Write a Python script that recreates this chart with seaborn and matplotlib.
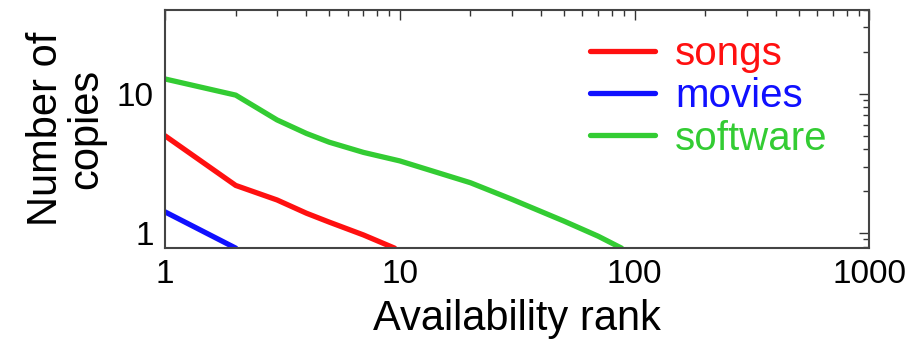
import matplotlib
matplotlib.use("Agg")
import matplotlib.pyplot as plt
import seaborn as sns
import pandas as pd
from matplotlib.ticker import LogLocator, FixedLocator, NullFormatter

songs_x = [1, 2, 3, 4, 5, 7, 9.5]
songs_y = [5.0, 2.2, 1.73, 1.39, 1.2, 0.97, 0.78]
movies_x = [1, 2]
movies_y = [1.42, 0.78]
software_x = [1, 2, 3, 4, 5, 7, 10, 20, 30, 50, 70, 88]
software_y = [12.8, 9.8, 6.5, 5.2, 4.5, 3.8, 3.3, 2.3, 1.75, 1.22, 0.95, 0.78]

series = ["songs", "movies", "software"]
colors = {"songs": "#ff1010", "movies": "#1010ff", "software": "#33cc33"}

df = pd.concat([
    pd.DataFrame({"rank": songs_x, "copies": songs_y, "type": "songs"}),
    pd.DataFrame({"rank": movies_x, "copies": movies_y, "type": "movies"}),
    pd.DataFrame({"rank": software_x, "copies": software_y, "type": "software"}),
])

sns.set_style("white")
plt.rcParams["font.family"] = ["Liberation Sans", "DejaVu Sans"]
plt.rcParams["text.color"] = "black"
plt.rcParams["axes.labelcolor"] = "black"
plt.rcParams["xtick.color"] = "black"
plt.rcParams["ytick.color"] = "black"

fig = plt.figure(figsize=(9.17, 3.48), dpi=100)
ax = fig.add_axes([0.18, 0.287, 0.768, 0.684])

sns.lineplot(data=df, x="rank", y="copies", hue="type", hue_order=series,
             palette=colors, linewidth=3.8, sort=False, estimator=None,
             ax=ax, legend=True)

ax.set_xscale("log")
ax.set_yscale("log")
ax.set_xlim(1, 1000)
ax.set_ylim(0.78, 40)

ax.xaxis.set_major_locator(FixedLocator([1, 10, 100, 1000]))
ax.set_xticklabels(["1", "10", "100", "1000"])
ax.yaxis.set_major_locator(FixedLocator([1, 10]))
ax.set_yticklabels(["1", "10"])
ax.xaxis.set_minor_locator(LogLocator(base=10, subs=range(2, 10)))
ax.yaxis.set_minor_locator(LogLocator(base=10, subs=range(2, 10)))
ax.xaxis.set_minor_formatter(NullFormatter())
ax.yaxis.set_minor_formatter(NullFormatter())

ax.tick_params(which="both", direction="in", top=True, right=True,
               color="#333333", width=1.0)
ax.tick_params(which="major", length=7, labelsize=24, pad=8)
ax.tick_params(which="minor", length=4)

for s in ax.spines.values():
    s.set_color("#444444")
    s.set_linewidth(1.5)

ax.set_xlabel("Availability rank", fontsize=30, labelpad=6)
ax.set_ylabel("Number of\ncopies", fontsize=30, labelpad=8, linespacing=1.0)

ax.legend(loc="upper right", bbox_to_anchor=(0.975, 0.995), frameon=False,
          fontsize=29, handlelength=1.6, handletextpad=0.5,
          labelspacing=0.1, labelcolor="linecolor", borderaxespad=0.2)

fig.savefig("out.png", dpi=100)
